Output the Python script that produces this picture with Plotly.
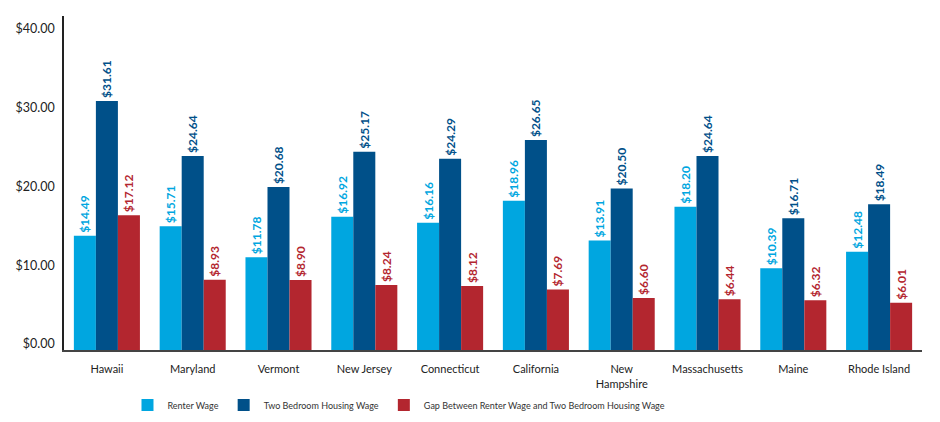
import plotly.graph_objects as go

# values (hourly wages, $)
states = ["Hawaii", "Maryland", "Vermont", "New Jersey", "Connecticut",
          "California", "New<br>Hampshire", "Massachusetts", "Maine", "Rhode Island"]
renter_wage = [14.49, 15.71, 11.78, 16.92, 16.16, 18.96, 13.91, 18.20, 10.39, 12.48]
housing_wage = [31.61, 24.64, 20.68, 25.17, 24.29, 26.65, 20.50, 24.64, 16.71, 18.49]
wage_gap = [17.12, 8.93, 8.90, 8.24, 8.12, 7.69, 6.60, 6.44, 6.32, 6.01]
y_ticks = [0, 10, 20, 30, 40]

series = [
    ("Renter Wage", renter_wage, "#00a6e0"),
    ("Two Bedroom Housing Wage", housing_wage, "#005089"),
    ("Gap Between Renter Wage and Two Bedroom Housing Wage", wage_gap, "#b3262f"),
]

fig = go.Figure()
for name, vals, color in series:
    fig.add_trace(go.Bar(
        x=states, y=vals, name=name,
        marker=dict(color=color, line=dict(width=0)),
        text=[f"${v:.2f}" for v in vals],
        textposition="outside", textangle=-90,
        textfont=dict(family="Lato", size=12, color=color, weight="bold"),
        cliponaxis=False,
    ))

# the page body adds a small offset, so the figure is sized to fit the window
fig.update_layout(
    width=932, height=420,
    margin=dict(l=56, r=18, t=8, b=71),
    paper_bgcolor="white", plot_bgcolor="white",
    barmode="group", bargap=0.23, bargroupgap=0,
    uniformtext=dict(minsize=12, mode="show"),
    font=dict(family="Lato", color="#333333"),
    showlegend=True,
    legend=dict(
        orientation="h", x=0.074, xanchor="left", y=-0.165, yanchor="middle",
        font=dict(size=9, color="#333333"),
        traceorder="normal",
    ),
)
fig.update_xaxes(
    showline=True, linecolor="#444444", linewidth=2,
    ticks="", showgrid=False, tickfont=dict(size=11, color="#222222"),
    ticklabelstandoff=8, automargin=False,
)
fig.update_yaxes(
    range=[0, 42.4], tickvals=y_ticks,
    ticktext=[f"${v:.2f}" for v in y_ticks],
    showline=True, linecolor="#222222", linewidth=1.5,
    ticks="", showgrid=False, zeroline=False,
    tickfont=dict(size=12.5, color="#222222"),
    ticklabelshift=-6, ticklabelstandoff=5, automargin=False,
)

fig.write_html("out.html")
